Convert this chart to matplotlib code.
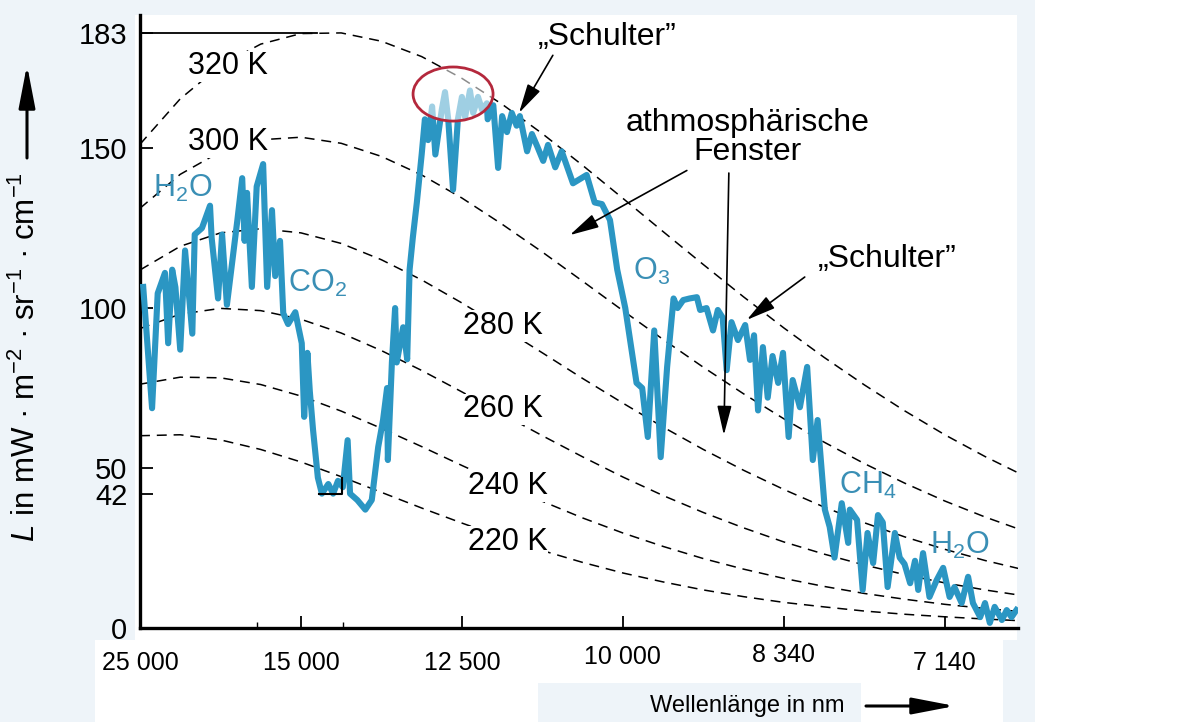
import matplotlib
matplotlib.use("Agg")
import matplotlib.pyplot as plt
from matplotlib.patches import Rectangle, Ellipse

# figure size in pixels
W, H = 1204, 722

# measured spectrum (wavenumber in cm^-1, radiance in mW m^-2 sr^-1 (cm^-1)^-1)
nu_obs = [404, 415, 422, 431, 435, 440, 444, 450, 456, 465, 468, 477, 487, 489, 497, 502, 508,
          521, 527, 530, 533, 539, 545, 553, 558, 564, 568, 574, 578, 584, 593, 601, 604, 608,
          611, 615, 621, 626, 634, 640, 646, 652, 658, 661, 670, 680, 688, 696, 702, 707, 708,
          713, 717, 719, 727, 732, 735, 739, 744, 750, 754, 758, 763, 767, 775, 779, 783, 789,
          795, 800, 804, 810, 814, 820, 825, 831, 832, 839, 845, 850, 856, 862, 868, 872, 881,
          887, 894, 901, 907, 916, 924, 938, 955, 965, 974, 984, 993, 1003, 1017, 1024, 1031,
          1039, 1047, 1055, 1063, 1068, 1075, 1083, 1092, 1096, 1104, 1112, 1118, 1124, 1129,
          1135, 1143, 1152, 1158, 1163, 1168, 1174, 1180, 1186, 1193, 1199, 1206, 1211, 1220,
          1229, 1236, 1242, 1251, 1257, 1263, 1272, 1280, 1282, 1291, 1298, 1304, 1311, 1317,
          1323, 1329, 1338, 1344, 1350, 1357, 1363, 1367, 1373, 1381, 1390, 1398, 1406, 1412,
          1421, 1429, 1435, 1444, 1450, 1456, 1462, 1471, 1477, 1483, 1489]
L_obs = [106.6, 68.7, 104.6, 111, 89, 112, 106.5, 87, 118, 92, 123, 125, 132, 122, 103, 123, 101,
         127.5, 140.6, 121, 136, 106.6, 138, 145, 106.6, 130.6, 110, 121, 98.4, 95, 98.7, 89, 66, 86,
         74, 62, 47, 42, 45, 42, 46, 44, 58.7, 42, 40, 37, 40, 56.6, 65, 75, 52.5,
         83, 100, 83, 94, 84, 112, 122, 133, 148, 159, 152.5, 163, 148, 162, 167.5, 159, 137,
         159, 166, 159.7, 168, 161, 166, 162, 164, 159, 163.4, 143.8, 160, 155, 161, 157, 160, 149,
         154.4, 150.3, 146, 151, 144, 149, 139, 141.6, 133, 132.5, 127.5, 112, 100, 76.6, 75, 59.7,
         93, 53.4, 81.6, 103, 100, 102.5, 103, 103.4, 99.4, 100, 93, 99.4, 97, 80.6,
         95.6, 90, 94.7, 83.8, 91.5, 68, 87.8, 72, 85, 76.6, 86, 59.7, 77.5, 69,
         81.6, 52.5, 65, 37, 31.6, 22, 39, 26.6, 37, 33.8, 11.9, 29.7, 20.3, 35.3,
         33, 12.8, 29.7, 22, 20, 14, 21, 11.9, 23.4, 9.7, 15, 18.8, 9.7, 12.8,
         7.8, 16, 7.8, 3.4, 7.8, 1.6, 6.6, 2.5, 5.6, 3.4, 5.6]

# black body curves read at 50 cm^-1 steps
nu_bb = [400, 450, 500, 550, 600, 650, 700, 750, 800, 850, 900, 950, 1000, 1050, 1100, 1150,
         1200, 1250, 1300, 1350, 1400, 1450, 1500]
bb = {
    220: [60.1, 60.4, 58.8, 55.8, 51.9, 47.3, 42.4, 37.5, 32.8, 28.3, 24.2, 20.5, 17.2, 14.4,
          11.9, 9.8, 8.0, 6.6, 5.3, 4.3, 3.5, 2.8, 2.2],
    240: [76.2, 78.4, 78.2, 76.1, 72.5, 67.8, 62.4, 56.7, 50.8, 45.1, 39.6, 34.4, 29.7, 25.5,
          21.7, 18.4, 15.5, 13.0, 10.8, 9.0, 7.4, 6.1, 5.0],
    260: [93.6, 98.1, 99.9, 99.2, 96.5, 92.2, 86.7, 80.5, 73.8, 66.9, 60.1, 53.5, 47.2, 41.4,
          36.1, 31.3, 26.9, 23.1, 19.7, 16.7, 14.1, 11.9, 10.0],
    280: [111.9, 119.3, 123.5, 124.8, 123.5, 120.2, 115.1, 108.8, 101.6, 93.9, 86.0, 78.0, 70.3,
          62.8, 55.8, 49.3, 43.3, 37.8, 32.9, 28.5, 24.6, 21.1, 18.1],
    300: [131.2, 141.8, 148.9, 152.6, 153.4, 151.5, 147.4, 141.6, 134.4, 126.2, 117.5, 108.4, 99.2,
          90.2, 81.5, 73.2, 65.4, 58.1, 51.4, 45.3, 39.7, 34.7, 30.2],
    320: [151.2, 165.4, 175.8, 182.5, 185.8, 186.0, 183.4, 178.6, 171.8, 163.7, 154.5, 144.6, 134.3,
          123.9, 113.6, 103.5, 93.8, 84.6, 76.0, 67.9, 60.4, 53.6, 47.4],
}

# axis ticks
x_ticks = [400, 600, 800, 1000, 1200, 1400]
x_labels = ["25 000", "15 000", "12 500", "10 000", "8 340", "7 140"]
x_minor = [545, 652]
y_ticks = [0, 42, 50, 100, 150, max(bb[320])]
y_labels = ["0", "42", "50", "100", "150", "183"]

plt.rcParams['font.family'] = ['Liberation Sans', 'DejaVu Sans']
plt.rcParams['mathtext.fontset'] = 'custom'
plt.rcParams['mathtext.rm'] = 'Liberation Sans'
plt.rcParams['mathtext.it'] = 'Liberation Sans:italic'

bg = '#eef4f9'
blue = '#2b96c3'
blue_txt = '#3a8fb5'

fig = plt.figure(figsize=(W / 100, H / 100), dpi=100, facecolor=bg)


# white panels of the original scan (pixel coordinates, top-left origin)
def panel(x0, y0, x1, y1):
    fig.patches.append(Rectangle((x0 / W, 1 - y1 / H), (x1 - x0) / W, (y1 - y0) / H,
                                 transform=fig.transFigure, facecolor='white',
                                 edgecolor='none', zorder=-1))


panel(135, 15, 1017, 640)
panel(95, 640, 1003, 683)
panel(95, 683, 538, 722)
panel(861, 683, 1003, 722)
panel(1035, 0, 1204, 722)

ax = fig.add_axes([140 / W, 1 - 628 / H, (1018 - 140) / W, (628 - 15) / H])
ax.patch.set_alpha(0)
ax.set_xlim(400, 1491)
ax.set_ylim(0, 191.6)

for s in ['top', 'right']:
    ax.spines[s].set_visible(False)
for s in ['left', 'bottom']:
    ax.spines[s].set_linewidth(2.4)

ax.set_yticks(y_ticks, y_labels)
ax.tick_params(axis='y', direction='in', length=9, width=1.3, labelsize=21, pad=9)
ax.set_xticks(x_ticks, [""] * len(x_ticks))
ax.set_xticks(x_minor, minor=True)
ax.tick_params(axis='x', which='major', direction='in', length=9, width=1.3)
ax.tick_params(axis='x', which='minor', direction='in', length=4, width=1.0)

# x tick labels (wavelength in nm), slightly staggered like the original
label_drop = [25, 25, 25, 21, 19.5, 25]
for xt, lab, d in zip(x_ticks, x_labels, label_drop):
    ax.annotate(lab, (xt, 0), xycoords=('data', 'axes fraction'), xytext=(0, -d),
                textcoords='offset points', ha='center', va='center', fontsize=18)

# black body curves
for T, vals in bb.items():
    ax.plot(nu_bb, vals, color='black', lw=1.1, ls=(0, (6.5, 4.5)), zorder=2)

# peak marker of the 320 K curve and 42 marker in the CO2 band
ax.plot([400, 620], [max(bb[320])] * 2, color='black', lw=1.3, zorder=2)
ax.plot([622, 651, 651], [42, 42, 47], color='black', lw=1.5, zorder=5)

# temperature labels sitting on the curves
t_labels = {"320 K": (509, 175.6), "300 K": (509, 151.9), "280 K": (851, 94.4),
            "260 K": (851, 68.4), "240 K": (857, 44.4), "220 K": (857, 26.9)}
for s, (xx, yy) in t_labels.items():
    ax.text(xx, yy, s, ha='center', va='center', fontsize=22, zorder=3,
            bbox=dict(facecolor='white', edgecolor='none', pad=0.5))

# measured spectrum
ax.plot(nu_obs, L_obs, color=blue, lw=4.4, solid_joinstyle='round', zorder=4)

# gas labels
gas = [("H$_2$O", 453, 137.5), ("CO$_2$", 621, 107.8), ("O$_3$", 1036, 111.3),
       ("CH$_4$", 1304, 44.7), ("H$_2$O", 1419, 25.9)]
for s, xx, yy in gas:
    ax.text(xx, yy, s, color=blue_txt, ha='center', va='center', fontsize=22, zorder=6)

# highlighted shoulder region
ax.add_patch(Ellipse((789, 166.9), width=99.4, height=16.9, facecolor=(1, 1, 1, 0.55),
                     edgecolor='#b4283c', lw=2, zorder=5))

arrow = dict(arrowstyle='-|>,head_length=0.9,head_width=0.22', mutation_scale=20,
             lw=1.2, color='black', shrinkA=0, shrinkB=0)
ax.text(980, 184.7, "„Schulter”", ha='center', va='center', fontsize=23)
ax.annotate("", xy=(871, 161), xytext=(913, 179), arrowprops=arrow, zorder=7)
ax.text(1155, 153.3, "athmosphärische\nFenster", ha='center', va='center', fontsize=23,
        linespacing=0.95)
ax.annotate("", xy=(934, 122.8), xytext=(1079.5, 143), arrowprops=arrow, zorder=7)
ax.annotate("", xy=(1125.5, 60.3), xytext=(1131.7, 142.2), arrowprops=arrow, zorder=7)
ax.text(1329, 115.3, "„Schulter”", ha='center', va='center', fontsize=23)
ax.annotate("", xy=(1154, 96.3), xytext=(1226, 109.7), arrowprops=arrow, zorder=7)

# axis titles with their arrows
fig.text(26 / W, 1 - 357 / H, r"$L$ in mW · m$^{-2}$ · sr$^{-1}$ · cm$^{-1}$",
         rotation=90, ha='center', va='center', fontsize=22.5)
big_arrow = dict(arrowstyle='-|>,head_length=1.3,head_width=0.25', mutation_scale=20,
                 lw=2.2, color='black', shrinkA=0, shrinkB=0)
fig.add_artist(matplotlib.patches.FancyArrowPatch((27 / W, 1 - 158 / H), (27 / W, 1 - 65 / H),
                                                  transform=fig.transFigure, **big_arrow))
fig.text(747 / W, 1 - 706 / H, "Wellenlänge in nm", ha='center', va='center', fontsize=17)
fig.add_artist(matplotlib.patches.FancyArrowPatch((866 / W, 1 - 706 / H), (955 / W, 1 - 706 / H),
                                                  transform=fig.transFigure, **big_arrow))

fig.savefig("out.png", dpi=100, facecolor=bg)
